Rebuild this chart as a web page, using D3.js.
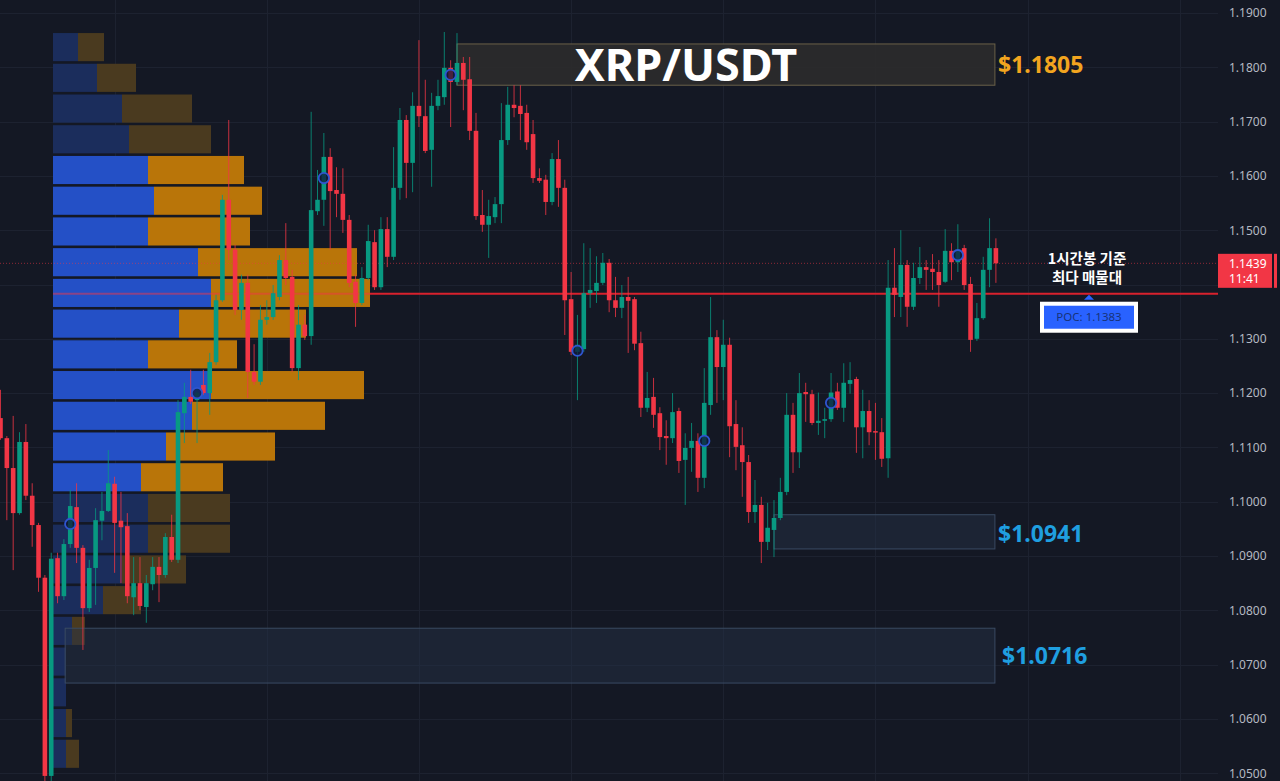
<!DOCTYPE html>
<html><head><meta charset="utf-8">
<script src="https://cdn.jsdelivr.net/npm/d3@7"></script>
<style>
html,body{margin:0;padding:0;background:#141824;}
svg{display:block;}
</style></head><body>
<svg id="c" width="1280" height="781"></svg>
<script>
// ---------- DATA ----------
const opens = [1.1154,1.1117,1.1062,1.0979,1.1110,1.1011,1.0957,1.0860,1.0495,1.0896,1.0826,1.0922,1.0990,1.0915,1.0804,1.0878,1.0965,1.0983,1.1033,1.0965,
1.0955,1.0824,1.0850,1.0806,1.0848,1.0880,1.0865,1.0935,1.0893,1.1163,1.1193,1.1187,1.1215,1.1200,1.1257,1.1371,1.1556,1.1464,1.1353,1.1403,
1.1239,1.1221,1.1335,1.1340,1.1377,1.1445,1.1414,1.1246,1.1326,1.1305,1.1535,1.1556,1.1635,1.1574,1.1567,1.1519,1.1405,1.1366,1.1412,1.1478,
1.1395,1.1502,1.1451,1.1578,1.1703,1.1624,1.1729,1.1710,1.1648,1.1729,1.1745,1.1799,1.1773,1.1808,1.1778,1.1683,1.1528,1.1510,1.1524,1.1548,
1.1666,1.1731,1.1729,1.1716,1.1677,1.1596,1.1593,1.1552,1.1631,1.1578,1.1373,1.1276,1.1281,1.1384,1.1388,1.1403,1.1440,1.1371,1.1357,1.1377,
1.1373,1.1292,1.1173,1.1193,1.1163,1.1121,1.1117,1.1167,1.1077,1.1099,1.1112,1.1044,1.1178,1.1303,1.1248,1.1289,1.1143,1.1104,1.1073,1.0981,
1.0994,1.0926,1.0948,1.0970,1.1018,1.1160,1.1091,1.1202,1.1198,1.1145,1.1149,1.1152,1.1203,1.1173,1.1217,1.1226,1.1137,1.1167,1.1130,1.1128,
1.1080,1.1394,1.1377,1.1436,1.1359,1.1412,1.1432,1.1429,1.1423,1.1405,1.1462,1.1441,1.1467,1.1401,1.1300,1.1338,1.1427,1.1467];
const highs = [1.1206,1.1121,1.1158,1.1128,1.1143,1.1034,1.0961,1.0865,1.0906,1.0906,1.0931,1.1022,1.1034,1.0920,1.0893,1.0988,1.1018,1.1095,1.1046,1.1018,
1.0979,1.0898,1.0898,1.0865,1.0898,1.0898,1.0942,1.0976,1.1187,1.1219,1.1243,1.1210,1.1243,1.1274,1.1381,1.1565,1.1703,1.1473,1.1418,1.1418,
1.1290,1.1362,1.1371,1.1399,1.1454,1.1513,1.1427,1.1362,1.1344,1.1718,1.1611,1.1679,1.1651,1.1616,1.1614,1.1528,1.1418,1.1432,1.1510,1.1500,
1.1524,1.1524,1.1653,1.1725,1.1712,1.1754,1.1850,1.1777,1.1753,1.1777,1.1865,1.1813,1.1863,1.1819,1.1819,1.1716,1.1574,1.1556,1.1561,1.1734,
1.1764,1.1767,1.1767,1.1731,1.1703,1.1614,1.1602,1.1642,1.1666,1.1593,1.1423,1.1344,1.1476,1.1467,1.1452,1.1458,1.1447,1.1414,1.1399,1.1414,
1.1377,1.1313,1.1239,1.1228,1.1174,1.1150,1.1200,1.1173,1.1126,1.1145,1.1126,1.1246,1.1377,1.1316,1.1335,1.1302,1.1187,1.1137,1.1086,1.1040,
1.1009,1.0998,1.1003,1.1044,1.1200,1.1182,1.1237,1.1219,1.1206,1.1201,1.1173,1.1237,1.1219,1.1255,1.1257,1.1230,1.1206,1.1187,1.1182,1.1154,
1.1445,1.1467,1.1500,1.1445,1.1440,1.1469,1.1445,1.1456,1.1445,1.1502,1.1476,1.1511,1.1473,1.1414,1.1366,1.1451,1.1522,1.1485];
const lows = [1.1114,1.0966,1.0874,1.0976,1.1003,1.0917,1.0834,1.0470,1.0470,1.0813,1.0819,1.0915,1.0887,1.0727,1.0797,1.0810,1.0929,1.0981,1.0869,1.0850,
1.0813,1.0791,1.0800,1.0777,1.0837,1.0815,1.0860,1.0889,1.0887,1.1108,1.1180,1.1108,1.1197,1.1160,1.1252,1.1368,1.1445,1.1344,1.1335,1.1191,
1.1215,1.1215,1.1326,1.1335,1.1371,1.1399,1.1239,1.1224,1.1298,1.1289,1.1528,1.1508,1.1464,1.1524,1.1495,1.1395,1.1322,1.1362,1.1408,1.1390,
1.1390,1.1432,1.1445,1.1556,1.1559,1.1570,1.1690,1.1642,1.1580,1.1721,1.1731,1.1690,1.1767,1.1721,1.1666,1.1519,1.1497,1.1449,1.1513,1.1513,
1.1657,1.1708,1.1666,1.1648,1.1587,1.1587,1.1528,1.1546,1.1543,1.1307,1.1270,1.1187,1.1276,1.1357,1.1366,1.1399,1.1349,1.1340,1.1338,1.1274,
1.1279,1.1156,1.1165,1.1136,1.1095,1.1068,1.1108,1.1053,1.0994,1.1055,1.1018,1.1025,1.1160,1.1182,1.1187,1.1082,1.1058,1.1009,1.0961,1.0961,
1.0887,1.0911,1.0898,1.0966,1.1012,1.1053,1.1062,1.1147,1.1141,1.1123,1.1117,1.1147,1.1169,1.1147,1.1199,1.1090,1.1080,1.1104,1.1077,1.1064,
1.1044,1.1340,1.1340,1.1322,1.1353,1.1401,1.1390,1.1390,1.1359,1.1403,1.1408,1.1423,1.1390,1.1276,1.1296,1.1335,1.1395,1.1403];
const closes = [1.1117,1.1062,1.0979,1.1110,1.1011,1.0957,1.0860,1.0495,1.0895,1.0826,1.0922,1.0992,1.0915,1.0804,1.0878,1.0966,1.0983,1.1034,1.0961,1.0953,
1.0826,1.0850,1.0808,1.0850,1.0880,1.0865,1.0935,1.0893,1.1165,1.1193,1.1184,1.1201,1.1200,1.1257,1.1371,1.1556,1.1464,1.1353,1.1403,1.1239,
1.1221,1.1335,1.1340,1.1384,1.1445,1.1412,1.1246,1.1326,1.1305,1.1537,1.1556,1.1635,1.1572,1.1567,1.1519,1.1403,1.1366,1.1412,1.1480,1.1395,
1.1502,1.1451,1.1578,1.1703,1.1624,1.1729,1.1710,1.1646,1.1729,1.1747,1.1799,1.1773,1.1808,1.1777,1.1683,1.1526,1.1510,1.1526,1.1548,1.1666,
1.1731,1.1725,1.1714,1.1662,1.1596,1.1591,1.1552,1.1631,1.1578,1.1371,1.1276,1.1289,1.1384,1.1390,1.1403,1.1440,1.1371,1.1357,1.1377,1.1370,
1.1291,1.1173,1.1191,1.1160,1.1119,1.1117,1.1165,1.1075,1.1099,1.1112,1.1044,1.1182,1.1303,1.1248,1.1289,1.1139,1.1101,1.1073,1.0981,1.0994,
1.0926,1.0952,1.0970,1.1018,1.1160,1.1091,1.1200,1.1198,1.1145,1.1149,1.1152,1.1201,1.1173,1.1219,1.1224,1.1137,1.1167,1.1128,1.1128,1.1079,
1.1394,1.1381,1.1436,1.1359,1.1412,1.1432,1.1427,1.1423,1.1399,1.1462,1.1441,1.1464,1.1399,1.1298,1.1338,1.1427,1.1467,1.1439];

// session markers (candle index, price)
const markerIdx = [11,31,51,71,91,111,131,151];
const markerPrice = [1.0959,1.1200,1.1596,1.1786,1.1278,1.1112,1.1182,1.1454];

// volume profile (top row first)
const profileTop = 1.1864, profileBottom = 1.0506;
const upVol   = [25,44,69,76,95,101,95,145,158,126,95,158,139,113,88,95,95,69,50,19,13,13,13,13];
const downVol = [26,39,70,82,96,108,102,159,159,127,89,153,133,109,82,82,82,64,38,13,0,0,6,13];
const vaHigh = 1.1638, vaLow = 1.1016;

// axis ticks (1.1400 label hidden behind the last-price tag)
const priceTicks = [1.05,1.06,1.07,1.08,1.09,1.10,1.11,1.12,1.13,1.14,1.15,1.16,1.17,1.18,1.19];
const priceLabels = [1.05,1.06,1.07,1.08,1.09,1.10,1.11,1.12,1.13,1.15,1.16,1.17,1.18,1.19];
const gridIdx = [18,42,66,90,114,138,162,186];

// zones
const zoneLow   = [1.1767, 1.0913, 1.0666];
const zoneHigh  = [1.1843, 1.0976, 1.0767];
const zoneStart = [72, 122, 10.2];
const levelPrices = [1.1805, 1.0941, 1.0716];
const levelColors = ["#f2a51f", "#1f9fe0", "#1f9fe0"];

const pocPrice = 1.1383;
const lastPrice = 1.1439;
const lastTime = "11:41";
const title = "XRP/USDT";
const noteLines = ["1시간봉 기준", "최다 매물대"];

// ---------- CHART ----------
const svg = d3.select("#c");
const N = closes.length;
const x = d3.scaleLinear().domain([0, N - 1]).range([0.5, 995.9]);
const y = d3.scaleLinear().domain([1.05, 1.19]).range([773.2, 13]);
const plotRight = 1218;
const UP = "#089981", DOWN = "#f23645";

svg.append("rect").attr("width", 1280).attr("height", 781).attr("fill", "#141824");

// grid
svg.append("g").selectAll("line").data(priceTicks).join("line")
  .attr("x1", 0).attr("x2", plotRight).attr("y1", d => Math.round(y(d)) + 0.5).attr("y2", d => Math.round(y(d)) + 0.5)
  .attr("stroke", "#1d2230").attr("stroke-width", 1);
svg.append("g").selectAll("line").data(gridIdx).join("line")
  .attr("x1", d => Math.round(x(d)) + 0.5).attr("x2", d => Math.round(x(d)) + 0.5).attr("y1", 0).attr("y2", 781)
  .attr("stroke", "#1d2230").attr("stroke-width", 1);

// volume profile
const rows = upVol.length;
const rowH = (profileTop - profileBottom) / rows;
const vx = d3.scaleLinear().domain([0, 320]).range([53, 373]);
const pg = svg.append("g");
upVol.forEach((u, k) => {
  const pTop = profileTop - k * rowH, pBot = pTop - rowH;
  const mid = (pTop + pBot) / 2;
  const inVA = mid <= vaHigh && mid >= vaLow;
  const y0 = y(pTop) + 0.5, h = y(pBot) - y(pTop) - 2.6;
  pg.append("rect").attr("x", vx(0)).attr("y", y0).attr("width", vx(u) - vx(0)).attr("height", h)
    .attr("fill", inVA ? "#2450c6" : "#1b2d5c");
  if (downVol[k] > 0)
    pg.append("rect").attr("x", vx(u)).attr("y", y0).attr("width", vx(u + downVol[k]) - vx(u)).attr("height", h)
      .attr("fill", inVA ? "#b97509" : "#4a3a1f");
});

// zones (semi-transparent, under candles)
const zg = svg.append("g");
zoneLow.forEach((lo, i) => {
  const isTitle = i === 0;
  zg.append("rect").attr("x", x(zoneStart[i])).attr("y", y(zoneHigh[i]))
    .attr("width", x(N - 1) - 1 - x(zoneStart[i])).attr("height", y(lo) - y(zoneHigh[i]))
    .attr("fill", isTitle ? "#2b2b2c" : "#26324a").attr("fill-opacity", isTitle ? 0.92 : 0.45)
    .attr("stroke", isTitle ? "#6a6048" : "#3a4a62").attr("stroke-width", 1);
});

// current price dotted line
svg.append("line").attr("x1", 0).attr("x2", plotRight).attr("y1", y(lastPrice)).attr("y2", y(lastPrice))
  .attr("stroke", "#f23645").attr("stroke-opacity", 0.55).attr("stroke-width", 1).attr("stroke-dasharray", "1,2");

// POC line
const pocRight = vx(upVol[8] + downVol[8]);
svg.append("line").attr("x1", 53).attr("x2", pocRight).attr("y1", y(pocPrice)).attr("y2", y(pocPrice))
  .attr("stroke", "#f23645").attr("stroke-opacity", 0.5).attr("stroke-width", 2);
svg.append("line").attr("x1", pocRight).attr("x2", plotRight).attr("y1", y(pocPrice)).attr("y2", y(pocPrice))
  .attr("stroke", "#d8212d").attr("stroke-width", 2);

// candles
const cg = svg.append("g");
const bw = 4.6;
for (let i = 0; i < N; i++) {
  const up = closes[i] >= opens[i];
  const col = up ? UP : DOWN;
  const cx = x(i);
  cg.append("line").attr("x1", cx).attr("x2", cx).attr("y1", y(highs[i])).attr("y2", y(lows[i]))
    .attr("stroke", col).attr("stroke-width", 1).attr("stroke-opacity", 0.8);
  const top = y(Math.max(opens[i], closes[i])), bot = y(Math.min(opens[i], closes[i]));
  cg.append("rect").attr("x", cx - bw / 2).attr("y", top).attr("width", bw).attr("height", Math.max(1.5, bot - top))
    .attr("fill", col);
}

// markers
svg.append("g").selectAll("circle").data(markerIdx).join("circle")
  .attr("cx", d => x(d)).attr("cy", (d, i) => y(markerPrice[i])).attr("r", 5.2)
  .attr("fill", "#101a3c").attr("fill-opacity", 0.75).attr("stroke", "#2f55d0").attr("stroke-width", 1.8);

// title
svg.append("text").attr("x", 686).attr("y", y(1.1805) + 16).attr("text-anchor", "middle")
  .attr("font-family", "'Noto Sans', 'Open Sans', sans-serif").attr("font-weight", 700).attr("font-size", 45)
  .attr("fill", "#ffffff").text(title);

// level labels
levelPrices.forEach((p, i) => {
  svg.append("text").attr("x", i === 2 ? 1002 : 998).attr("y", y(p)).attr("dy", "0.35em")
    .attr("font-family", "'Noto Sans', 'Open Sans', sans-serif").attr("font-weight", 700).attr("font-size", 23)
    .attr("fill", levelColors[i]).text("$" + p.toFixed(4));
});

// annotation
noteLines.forEach((t, i) => {
  svg.append("text").attr("x", 1087).attr("y", 264 + i * 19).attr("text-anchor", "middle")
    .attr("font-family", "'Noto Sans CJK KR', 'Noto Sans', sans-serif").attr("font-weight", 700).attr("font-size", 14.5)
    .attr("fill", "#ffffff").text(t);
});
const ty = y(pocPrice);
svg.append("path").attr("d", `M1089,${ty + 1} L1094,${ty + 6} L1084,${ty + 6} Z`).attr("fill", "#2962ff");
svg.append("rect").attr("x", 1042).attr("y", ty + 10).attr("width", 94).attr("height", 27)
  .attr("fill", "#2962ff").attr("stroke", "#ffffff").attr("stroke-width", 4);
svg.append("text").attr("x", 1089).attr("y", ty + 23.5).attr("dy", "0.35em").attr("text-anchor", "middle")
  .attr("font-family", "'Noto Sans', sans-serif").attr("font-size", 11.5).attr("fill", "#17327a")
  .text("POC: " + pocPrice.toFixed(4));

// right axis
const axis = d3.axisRight(y).tickValues(priceLabels).tickFormat(d3.format(".4f")).tickSize(0).tickPadding(7);
const ag = svg.append("g").attr("transform", "translate(1222,0)").call(axis);
ag.select(".domain").remove();
ag.selectAll("text").attr("font-family", "'Noto Sans', 'DejaVu Sans', sans-serif").attr("font-size", 12).attr("fill", "#b4b8c2");

// last price label
const ly = y(lastPrice);
svg.append("rect").attr("x", 1218).attr("y", ly - 9.5).attr("width", 54).attr("height", 34).attr("fill", "#f23645");
svg.append("rect").attr("x", 1274).attr("y", ly - 9.5).attr("width", 3).attr("height", 34).attr("fill", "#f23645");
svg.append("text").attr("x", 1229).attr("y", ly + 5).attr("font-family", "'Noto Sans', sans-serif").attr("font-size", 12).attr("fill", "#fff").text(lastPrice.toFixed(4));
svg.append("text").attr("x", 1229).attr("y", ly + 20).attr("font-family", "'Noto Sans', sans-serif").attr("font-size", 12).attr("fill", "#fff").text(lastTime);
</script>
</body></html>
